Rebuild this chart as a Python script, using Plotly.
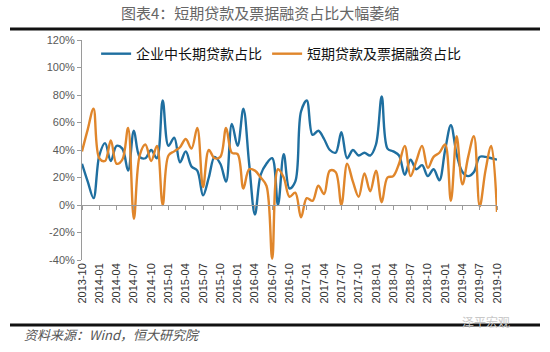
import plotly.graph_objects as go

# monthly data 2013-10 .. 2019-10
start_year, start_month = 2013, 10
n_months = 73
months = []
for i in range(n_months):
    m = start_month - 1 + i
    months.append(f"{start_year + m // 12}-{m % 12 + 1:02d}")

blue_name = "企业中长期贷款占比"
orange_name = "短期贷款及票据融资占比"

blue_vals = [30, 17, 5, 36, 45, 32, 43, 41, 25, 54,
             35, 34, 40, 34, 76, 43, 49, 31, 39, 28,
             25, 7, 20, 35, 30, 17, 59, 43, 70, 30,
             -7, 22, 30, 34, 0, 37, 12, 17, 68, 76,
             51, 54, 48, 40, 38, 53, 34, 40, 36, 38,
             36, 44, 79, 41, 39, 36, 22, 33, 26, 29,
             21, 26, 18, 40, 58, 37, 24, 21, 24, 35,
             35, 34, 33]

orange_vals = [39, 55, 70, 34, 32, 47, 30, 33, 56, -10,
               36, 44, 32, 43, 0, 36, 39, 42, 48, 41,
               56, 13, 40, 34, 35, 56, 38, 37, 12, 26,
               25, 20, 14, -39, 26, 20, 6, 9, -9, 5,
               3, 14, 8, 25, 24, 0, 30, 17, 6, 23,
               10, 25, 2, 20, 21, 30, 43, 21, 32, 43,
               27, 35, 38, 44, 3, 50, 15, 35, 50, -1,
               25, 43, -5]

y_ticks = [-40, -20, 0, 20, 40, 60, 80, 100, 120]
tick_idx = list(range(0, n_months, 3))
tick_text = [months[i] for i in tick_idx]

x = list(range(n_months))

fig = go.Figure()
fig.add_trace(go.Scatter(x=x, y=blue_vals, name=blue_name, mode="lines",
                         line=dict(color="#1F6FA0", width=2.4, shape="spline", smoothing=1.0)))
fig.add_trace(go.Scatter(x=x, y=orange_vals, name=orange_name, mode="lines",
                         line=dict(color="#E0862B", width=2.4, shape="spline", smoothing=1.0)))
# helper trace so the zero-line axis (x2) renders its ticks
fig.add_trace(go.Scatter(x=[0, n_months - 1], y=[None, None], xaxis="x2",
                         showlegend=False, hoverinfo="skip", mode="lines"))

axis_grey = "#9A9A9A"
fig.update_layout(
    width=550, height=352,
    margin=dict(l=82, r=53, t=40, b=92),
    paper_bgcolor="white", plot_bgcolor="white",
    showlegend=True,
    legend=dict(orientation="h", x=0.034, xanchor="left", y=0.936, yanchor="middle",
                font=dict(family="Noto Sans CJK SC", size=14, color="#111"),
                bgcolor="rgba(0,0,0,0)", tracegroupgap=0, itemwidth=30),
    xaxis=dict(range=[0, n_months - 1], tickmode="array", tickvals=tick_idx, ticktext=tick_text,
               tickangle=-90, showline=False, ticks="", showgrid=False, zeroline=False,
               tickfont=dict(family="Liberation Sans", size=11, color="#333")),
    xaxis2=dict(overlaying="x", anchor="free", position=0.25, range=[0, n_months - 1],
                tickmode="array", tickvals=tick_idx, showticklabels=False,
                ticks="outside", ticklen=4, tickcolor=axis_grey, showline=True,
                linecolor=axis_grey, linewidth=1, showgrid=False, zeroline=False),
    yaxis=dict(range=[-40, 120], tickmode="array", tickvals=y_ticks,
               ticktext=[f"{v}%" for v in y_ticks], showgrid=False, zeroline=False,
               showline=True, linecolor=axis_grey, linewidth=1, ticks="outside",
               ticklen=4, tickcolor=axis_grey,
               tickfont=dict(family="Liberation Sans", size=11, color="#595959")),
    font=dict(family="Noto Sans CJK SC"),
)

# title and decorative rules
fig.add_annotation(text="图表4：短期贷款及票据融资占比大幅萎缩", xref="paper", yref="paper",
                   x=(260 - 82) / 415, y=(260 - 13) / 220, xanchor="center", yanchor="middle",
                   showarrow=False, font=dict(family="Noto Sans CJK SC", size=15, color="#666666"))
fig.add_shape(type="line", xref="paper", yref="paper",
              x0=(10 - 82) / 415, x1=(540 - 82) / 415, y0=(260 - 29) / 220, y1=(260 - 29) / 220,
              line=dict(color="#111", width=3))
fig.add_shape(type="line", xref="paper", yref="paper",
              x0=(10 - 82) / 415, x1=(540 - 82) / 415, y0=(260 - 325) / 220, y1=(260 - 325) / 220,
              line=dict(color="#111", width=3))
fig.add_annotation(text="<i>资料来源：Wind，恒大研究院</i>", xref="paper", yref="paper",
                   x=(22 - 82) / 415, y=(260 - 334) / 220, xanchor="left", yanchor="middle",
                   showarrow=False, font=dict(family="Noto Sans CJK SC", size=13, color="#555"))
fig.add_annotation(text="泽平宏观", xref="paper", yref="paper",
                   x=(512 - 82) / 415, y=(260 - 321) / 220, xanchor="right", yanchor="middle",
                   showarrow=False, font=dict(family="Noto Sans CJK SC", size=12, color="#C8C8C8"))

fig.write_html("out.html")
